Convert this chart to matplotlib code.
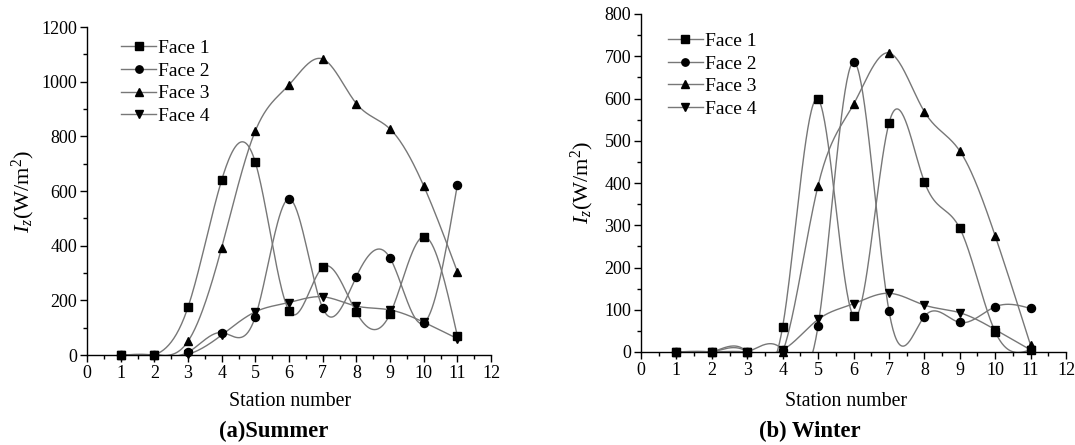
import numpy as np
import matplotlib
matplotlib.use("Agg")
import matplotlib.pyplot as plt
from matplotlib.lines import Line2D
from matplotlib.ticker import MultipleLocator

# station numbers
stations = [1, 2, 3, 4, 5, 6, 7, 8, 9, 10, 11]
labels = ["Face 1", "Face 2", "Face 3", "Face 4"]
markers = ["s", "o", "^", "v"]

# summer, I_z (W/m^2)
summer_face1 = [0, 0, 175, 640, 705, 162, 321, 156, 150, 433, 70]
summer_face2 = [0, 0, 10, 82, 140, 571, 172, 287, 355, 117, 622]
summer_face3 = [0, 0, 50, 393, 820, 988, 1083, 920, 827, 619, 305]
summer_face4 = [0, 0, 3, 73, 158, 192, 213, 179, 165, 120, 60]

# winter, I_z (W/m^2)
winter_face1 = [0, 0, 0, 60, 598, 85, 541, 403, 293, 48, 5]
winter_face2 = [0, 0, 0, 5, 62, 686, 98, 84, 70, 107, 103]
winter_face3 = [0, 0, 0, 0, 394, 586, 708, 569, 476, 275, 16]
winter_face4 = [0, 0, 0, 5, 77, 114, 139, 111, 93, 53, 5]

plt.rcParams["font.family"] = ["Liberation Serif", "DejaVu Serif"]
plt.rcParams["mathtext.fontset"] = "custom"
plt.rcParams["mathtext.rm"] = "Liberation Serif"
plt.rcParams["mathtext.it"] = "Liberation Serif:italic"

LINE_C = "#777777"


def natural_spline(x, y, n=400):
    # natural cubic spline through the points (smooth connect like Origin)
    x = np.asarray(x, float)
    y = np.asarray(y, float)
    m = len(x)
    h = np.diff(x)
    A = np.zeros((m, m))
    b = np.zeros(m)
    A[0, 0] = A[-1, -1] = 1
    for i in range(1, m - 1):
        A[i, i - 1] = h[i - 1]
        A[i, i] = 2 * (h[i - 1] + h[i])
        A[i, i + 1] = h[i]
        b[i] = 6 * ((y[i + 1] - y[i]) / h[i] - (y[i] - y[i - 1]) / h[i - 1])
    M = np.linalg.solve(A, b)
    xs = np.linspace(x[0], x[-1], n)
    idx = np.clip(np.searchsorted(x, xs) - 1, 0, m - 2)
    x0, x1 = x[idx], x[idx + 1]
    hh = x1 - x0
    t0, t1 = x1 - xs, xs - x0
    ys = (M[idx] * t0 ** 3 + M[idx + 1] * t1 ** 3) / (6 * hh) \
        + (y[idx] / hh - M[idx] * hh / 6) * t0 \
        + (y[idx + 1] / hh - M[idx + 1] * hh / 6) * t1
    return xs, ys


def draw_panel(ax, series, ymax, ymajor, legend_anchor):
    for vals, mk in zip(series, markers):
        xs, ys = natural_spline(stations, vals)
        ax.plot(xs, ys, color=LINE_C, lw=1.0, zorder=2)
        ax.plot(stations, vals, ls="none", marker=mk, ms=5.8, color="black",
                clip_on=False, zorder=3)
    ax.set_xlim(0, 12)
    ax.set_ylim(0, ymax)
    ax.xaxis.set_major_locator(MultipleLocator(1))
    ax.xaxis.set_minor_locator(MultipleLocator(0.5))
    ax.yaxis.set_major_locator(MultipleLocator(ymajor))
    ax.yaxis.set_minor_locator(MultipleLocator(ymajor / 2))
    ax.tick_params(which="major", direction="out", length=5, width=1, labelsize=13, pad=2)
    ax.tick_params(which="minor", direction="out", length=3, width=1)
    for s in ["top", "right"]:
        ax.spines[s].set_visible(False)
    for s in ["left", "bottom"]:
        ax.spines[s].set_linewidth(1.0)
    handles = [Line2D([], [], color=LINE_C, lw=1.0, marker=mk, ms=5.3,
                      markerfacecolor="black", markeredgecolor="black")
               for mk in markers]
    ax.legend(handles, labels, loc="upper left", bbox_to_anchor=legend_anchor,
              frameon=False, fontsize=14, handlelength=1.8, handletextpad=0.1,
              labelspacing=0.26, borderpad=0, borderaxespad=0)


fig = plt.figure(figsize=(10.75, 4.45), dpi=100)
W, H = 1075, 445
ax1 = fig.add_axes([87 / W, (H - 355) / H, 404 / W, 328 / H])
ax2 = fig.add_axes([641 / W, (H - 352) / H, 425 / W, 338 / H])

draw_panel(ax1, [summer_face1, summer_face2, summer_face3, summer_face4],
           1200, 200, (0.085, 0.962))
draw_panel(ax2, [winter_face1, winter_face2, winter_face3, winter_face4],
           800, 100, (0.063, 0.946))

ylab = r"$I_z$(W/m$^2$)"
fig.text(23 / W, 1 - 192 / H, ylab, rotation=90, ha="center", va="center", fontsize=16)
fig.text(582 / W, 1 - 183 / H, ylab, rotation=90, ha="center", va="center", fontsize=16)

fig.text(290 / W, 1 - 401 / H, "Station number", ha="center", va="center", fontsize=14.3)
fig.text(846 / W, 1 - 401 / H, "Station number", ha="center", va="center", fontsize=14.3)
fig.text(274 / W, 1 - 431 / H, "(a)Summer", ha="center", va="center",
         fontsize=16.3, fontweight="bold")
fig.text(810 / W, 1 - 431 / H, "(b) Winter", ha="center", va="center",
         fontsize=16.3, fontweight="bold")

fig.savefig("out.png", dpi=100, facecolor="white")
